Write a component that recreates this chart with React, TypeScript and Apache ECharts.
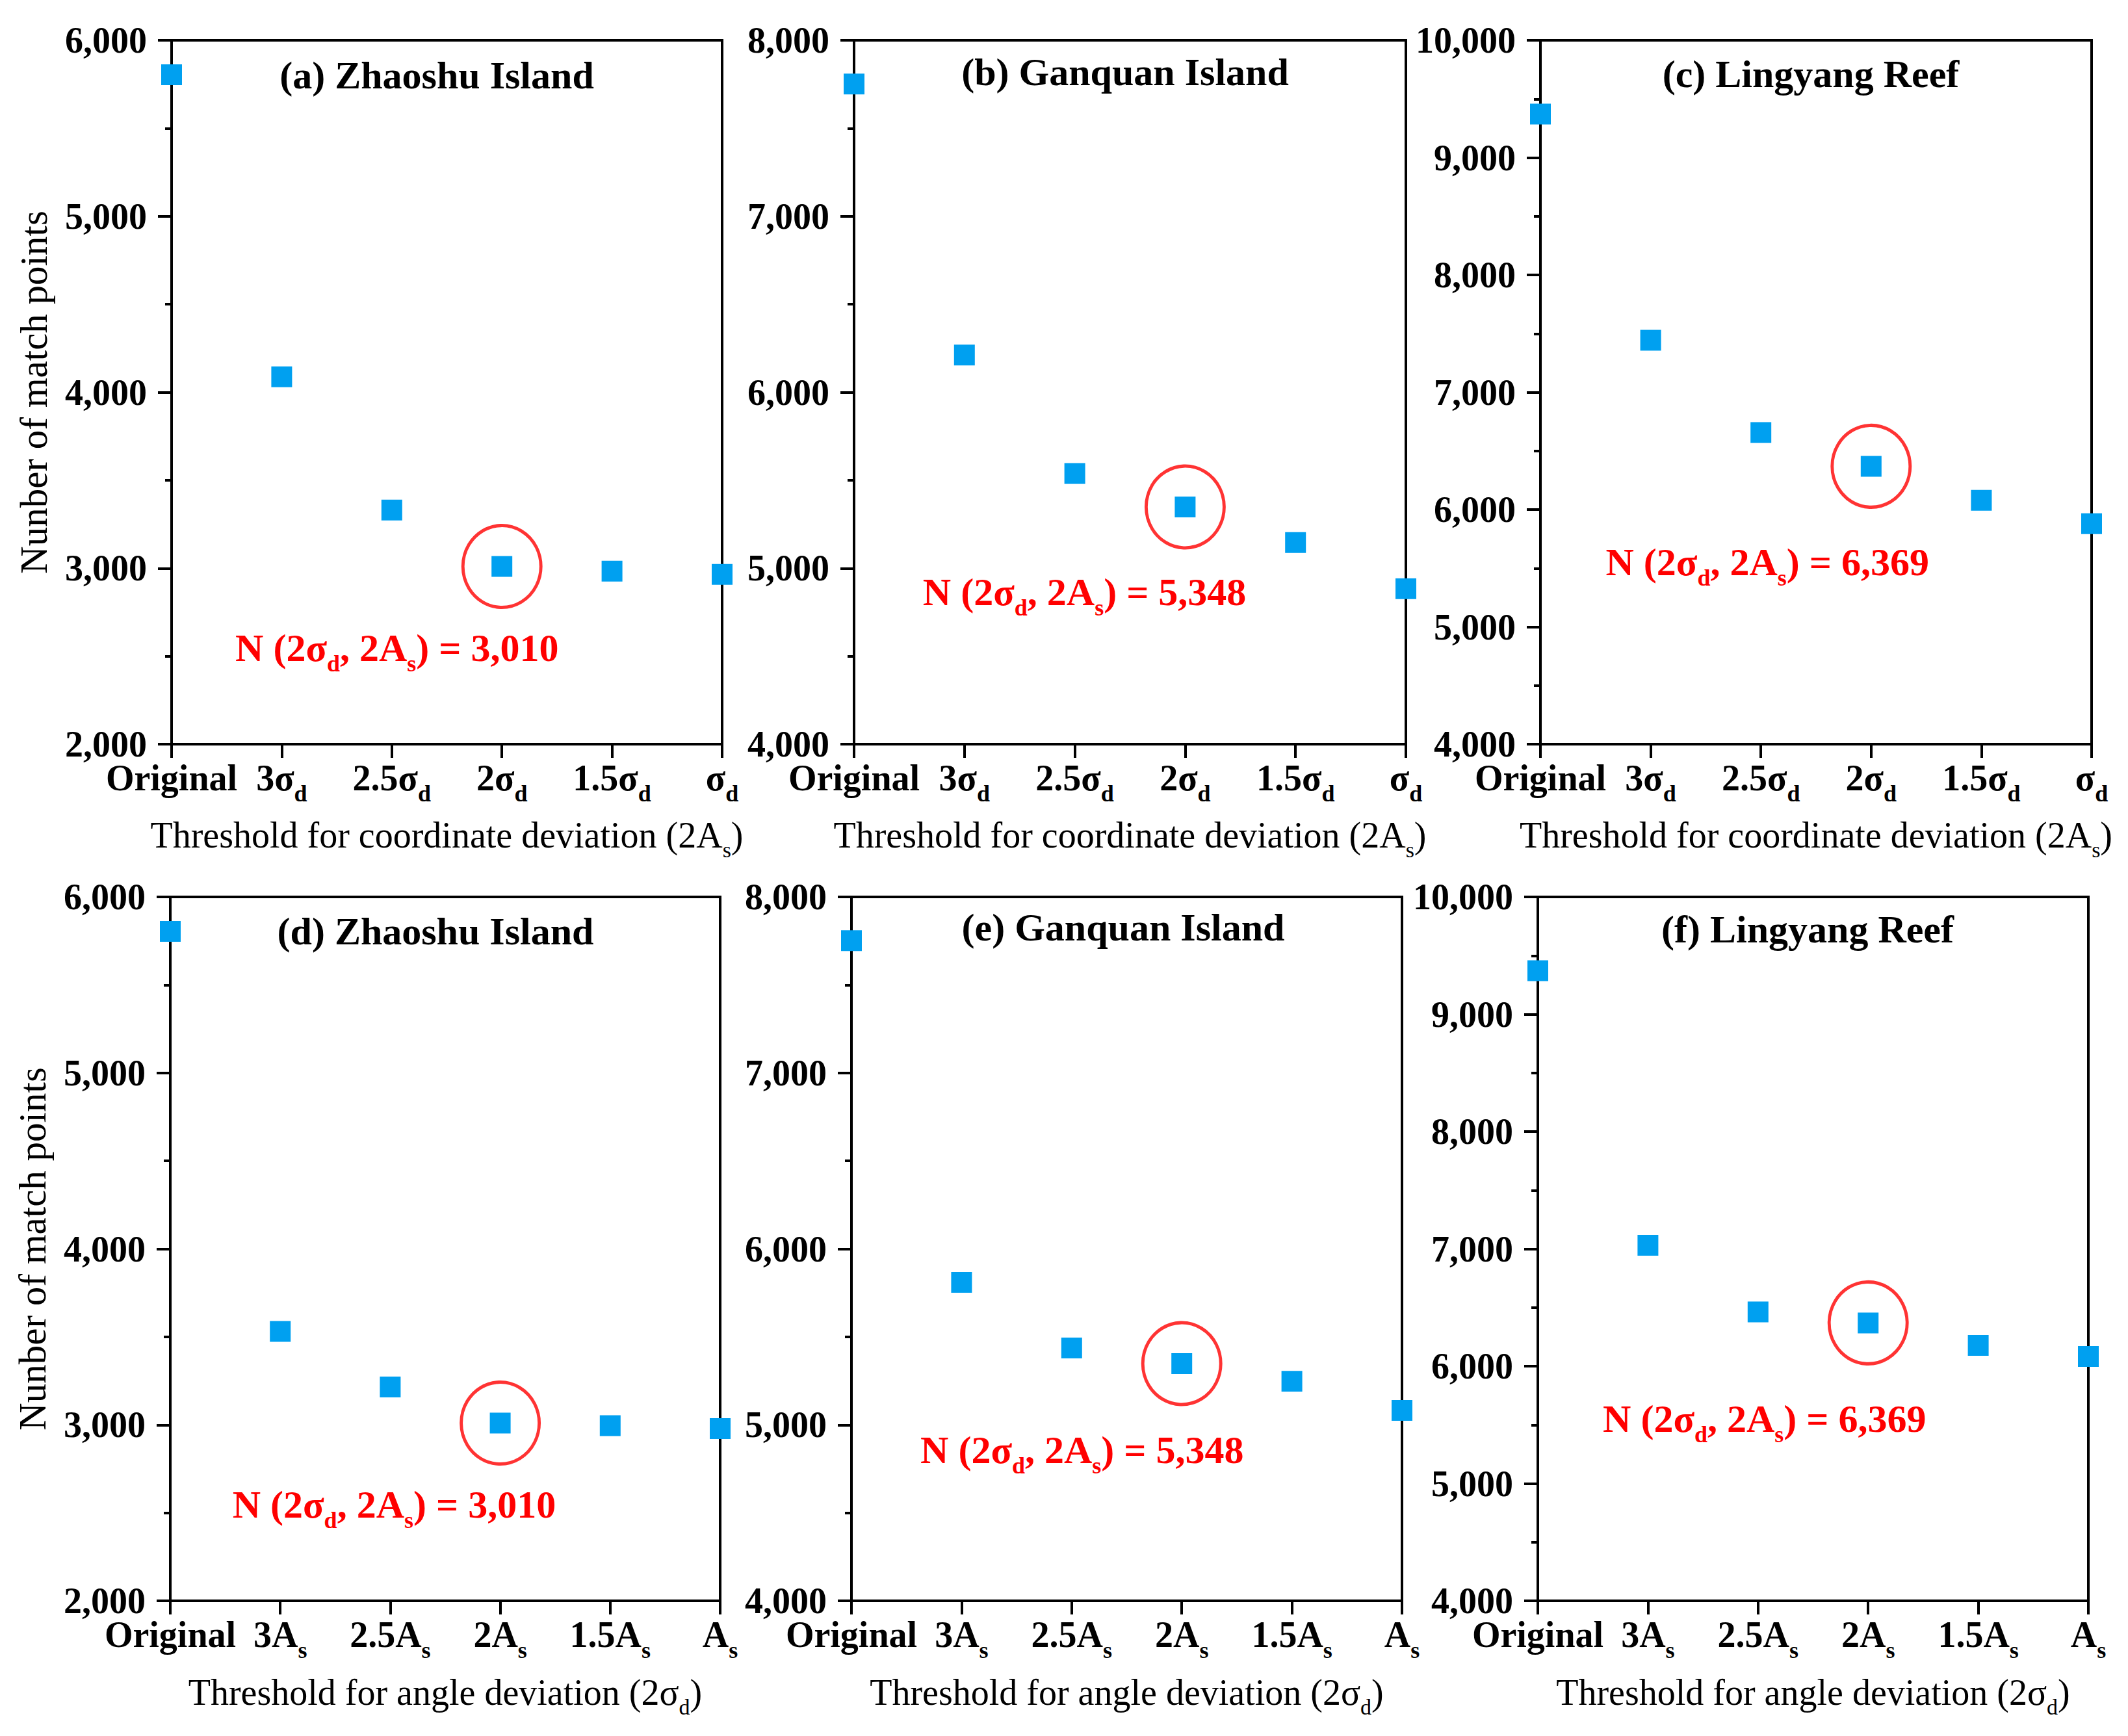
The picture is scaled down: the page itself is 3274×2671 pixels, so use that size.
import { useEffect, useRef } from "react";
import * as echarts from "echarts";

// ---------- data ----------
const CATEGORIES_COORD = ["Original", "3σ_d", "2.5σ_d", "2σ_d", "1.5σ_d", "σ_d"];
const CATEGORIES_ANGLE = ["Original", "3A_s", "2.5A_s", "2A_s", "1.5A_s", "A_s"];

const ZHAOSHU_COORD = [5804, 4088, 3331, 3010, 2983, 2965];
const GANQUAN_COORD = [7752, 6211, 5538, 5348, 5146, 4884];
const LINGYANG_COORD = [9371, 7443, 6656, 6369, 6079, 5880];
const ZHAOSHU_ANGLE = [5804, 3531, 3215, 3010, 2995, 2979];
const GANQUAN_ANGLE = [7752, 5810, 5437, 5348, 5247, 5082];
const LINGYANG_ANGLE = [9371, 7030, 6462, 6369, 6177, 6083];

const PANEL_TITLES = [
  "(a) Zhaoshu Island",
  "(b) Ganquan Island",
  "(c) Lingyang Reef",
  "(d) Zhaoshu Island",
  "(e) Ganquan Island",
  "(f) Lingyang Reef",
];
const Y_MIN = [2000, 4000, 4000, 2000, 4000, 4000];
const Y_MAX = [6000, 8000, 10000, 6000, 8000, 10000];
const Y_INTERVAL = 1000;
const HIGHLIGHT_INDEX = 3;
const Y_TITLE = "Nunber of match points";
const X_TITLE_COORD = "Threshold for coordinate deviation (2A_s)";
const X_TITLE_ANGLE = "Threshold for angle deviation (2σ_d)";
const ANNOTATION_PREFIX = "N (2σ_d, 2A_s) = ";

const PANEL_DATA = [
  ZHAOSHU_COORD,
  GANQUAN_COORD,
  LINGYANG_COORD,
  ZHAOSHU_ANGLE,
  GANQUAN_ANGLE,
  LINGYANG_ANGLE,
];

// ---------- layout (positions & styles) ----------
const W = 3274;
const H = 2671;
const GRIDS = [
  { left: 264, top: 62, width: 847, height: 1083 },
  { left: 1314, top: 62, width: 849, height: 1083 },
  { left: 2370, top: 62, width: 848, height: 1083 },
  { left: 262, top: 1380, width: 846, height: 1083 },
  { left: 1310, top: 1380, width: 847, height: 1083 },
  { left: 2366, top: 1380, width: 847, height: 1083 },
];
const TITLE_POS = [
  [672, 116],
  [1731, 111],
  [2786, 114],
  [670, 1433],
  [1728, 1427],
  [2781, 1430],
];
// annotation anchor (value coordinate) and horizontal pixel offsets
const ANNOT_Y = [2543, 4861, 5546, 2543, 4855, 5548];
const ANNOT_DX = [8, 15, 10, 6, 16, 10];

const FONT = '"Liberation Serif", "Times New Roman", serif';
const BLUE = "#00A0F0";
const RED = "#FF0000";
const BLACK = "#000000";

function toRich(s: string, m: string, u: string): string {
  let out = "";
  let buf = "";
  for (let i = 0; i < s.length; i++) {
    if (s[i] === "_" && i + 1 < s.length) {
      if (buf) out += `{${m}|${buf}}`;
      buf = "";
      out += `{${u}|${s[i + 1]}}`;
      i++;
    } else {
      buf += s[i];
    }
  }
  if (buf) out += `{${m}|${buf}}`;
  return out;
}

const TICK_RICH = {
  m: {
    fontFamily: FONT,
    fontWeight: "bold",
    fontSize: 56,
    lineHeight: 60,
    verticalAlign: "top",
    color: BLACK,
  },
  u: {
    fontFamily: FONT,
    fontWeight: "bold",
    fontSize: 36,
    lineHeight: 36,
    padding: [34, 0, 0, 0],
    verticalAlign: "top",
    color: BLACK,
  },
};

const NAME_RICH = {
  t: {
    fontFamily: FONT,
    fontSize: 56,
    lineHeight: 56,
    verticalAlign: "top",
    color: BLACK,
  },
  u: {
    fontFamily: FONT,
    fontSize: 34,
    lineHeight: 34,
    padding: [33, 0, 0, 0],
    verticalAlign: "top",
    color: BLACK,
  },
};

const ANNOT_RICH = {
  a: {
    fontFamily: FONT,
    fontWeight: "bold",
    fontSize: 60,
    lineHeight: 62,
    verticalAlign: "top",
    color: RED,
  },
  b: {
    fontFamily: FONT,
    fontWeight: "bold",
    fontSize: 36,
    lineHeight: 36,
    padding: [36, 0, 0, 0],
    verticalAlign: "top",
    color: RED,
  },
};

function buildOption() {
  const grid: any[] = [];
  const xAxis: any[] = [];
  const yAxis: any[] = [];
  const series: any[] = [];
  const elements: any[] = [];

  for (let i = 0; i < 6; i++) {
    const top = i < 3;
    const cats = top ? CATEGORIES_COORD : CATEGORIES_ANGLE;
    const values = PANEL_DATA[i];
    grid.push({
      ...GRIDS[i],
      show: true,
      borderColor: BLACK,
      borderWidth: 4,
      backgroundColor: "transparent",
      containLabel: false,
      outerBoundsMode: "none",
    });
    xAxis.push({
      type: "category",
      gridIndex: i,
      data: cats,
      boundaryGap: false,
      axisLine: { show: true, lineStyle: { color: BLACK, width: 4 } },
      axisTick: {
        show: true,
        inside: false,
        length: 21,
        interval: 0,
        lineStyle: { color: BLACK, width: 4 },
      },
      axisLabel: {
        show: true,
        interval: 0,
        margin: 24,
        formatter: (v: string) => toRich(v, "m", "u"),
        rich: TICK_RICH,
      },
      splitLine: { show: false },
      name: toRich(top ? X_TITLE_COORD : X_TITLE_ANGLE, "t", "u"),
      nameLocation: "middle",
      nameGap: top ? 112 : 113,
      nameTextStyle: { rich: NAME_RICH },
    });
    yAxis.push({
      type: "value",
      gridIndex: i,
      min: Y_MIN[i],
      max: Y_MAX[i],
      interval: Y_INTERVAL,
      axisLine: { show: true, lineStyle: { color: BLACK, width: 4 } },
      axisTick: {
        show: true,
        inside: false,
        length: 21,
        lineStyle: { color: BLACK, width: 4 },
      },
      minorTick: {
        show: true,
        splitNumber: 2,
        length: 10,
        lineStyle: { color: BLACK, width: 4 },
      },
      splitLine: { show: false },
      minorSplitLine: { show: false },
      axisLabel: {
        margin: 38,
        fontFamily: FONT,
        fontWeight: "bold",
        fontSize: 56,
        color: BLACK,
        formatter: (v: number) => v.toLocaleString("en-US"),
      },
      name: i % 3 === 0 ? Y_TITLE : "",
      nameLocation: "middle",
      nameRotate: 90,
      nameGap: 183,
      nameTextStyle: { fontFamily: FONT, fontSize: 59, color: BLACK },
    });
    const hv = values[HIGHLIGHT_INDEX];
    series.push({
      type: "scatter",
      xAxisIndex: i,
      yAxisIndex: i,
      data: [[HIGHLIGHT_INDEX, hv]],
      symbol: "circle",
      symbolSize: [120, 126],
      itemStyle: { color: "rgba(0,0,0,0)", borderColor: RED, borderWidth: 5 },
      clip: false,
      silent: true,
      z: 2,
    });
    series.push({
      type: "scatter",
      xAxisIndex: i,
      yAxisIndex: i,
      data: values.map((v, j) => [j, v]),
      symbol: "rect",
      symbolSize: 32,
      itemStyle: { color: BLUE, opacity: 1 },
      clip: false,
      z: 3,
      markPoint: {
        symbol: "circle",
        symbolSize: 1,
        itemStyle: { color: "rgba(0,0,0,0)" },
        silent: true,
        label: {
          show: true,
          position: "inside",
          offset: [ANNOT_DX[i], 0],
          formatter: () =>
            toRich(ANNOTATION_PREFIX + hv.toLocaleString("en-US"), "a", "b"),
          rich: ANNOT_RICH,
        },
        data: [{ coord: [HIGHLIGHT_INDEX - 1, ANNOT_Y[i]] }],
      },
    });
    elements.push({
      type: "text",
      x: TITLE_POS[i][0],
      y: TITLE_POS[i][1],
      style: {
        text: PANEL_TITLES[i],
        fontFamily: FONT,
        fontWeight: "bold",
        fontSize: 60,
        fill: BLACK,
        textAlign: "center",
        textVerticalAlign: "middle",
        align: "center",
        verticalAlign: "middle",
      },
      z: 10,
    });
  }

  return {
    animation: false,
    backgroundColor: "#ffffff",
    grid,
    xAxis,
    yAxis,
    series,
    graphic: { elements },
  };
}

export default function App() {
  const ref = useRef<HTMLDivElement>(null);
  useEffect(() => {
    if (!ref.current) return;
    const chart = echarts.init(ref.current, null, {
      renderer: "svg",
      width: W,
      height: H,
    });
    chart.setOption(buildOption() as any);
    return () => chart.dispose();
  }, []);
  return (
    <div
      ref={ref}
      style={{
        position: "absolute",
        left: 0,
        top: 0,
        width: W,
        height: H,
        background: "#ffffff",
      }}
    />
  );
}
